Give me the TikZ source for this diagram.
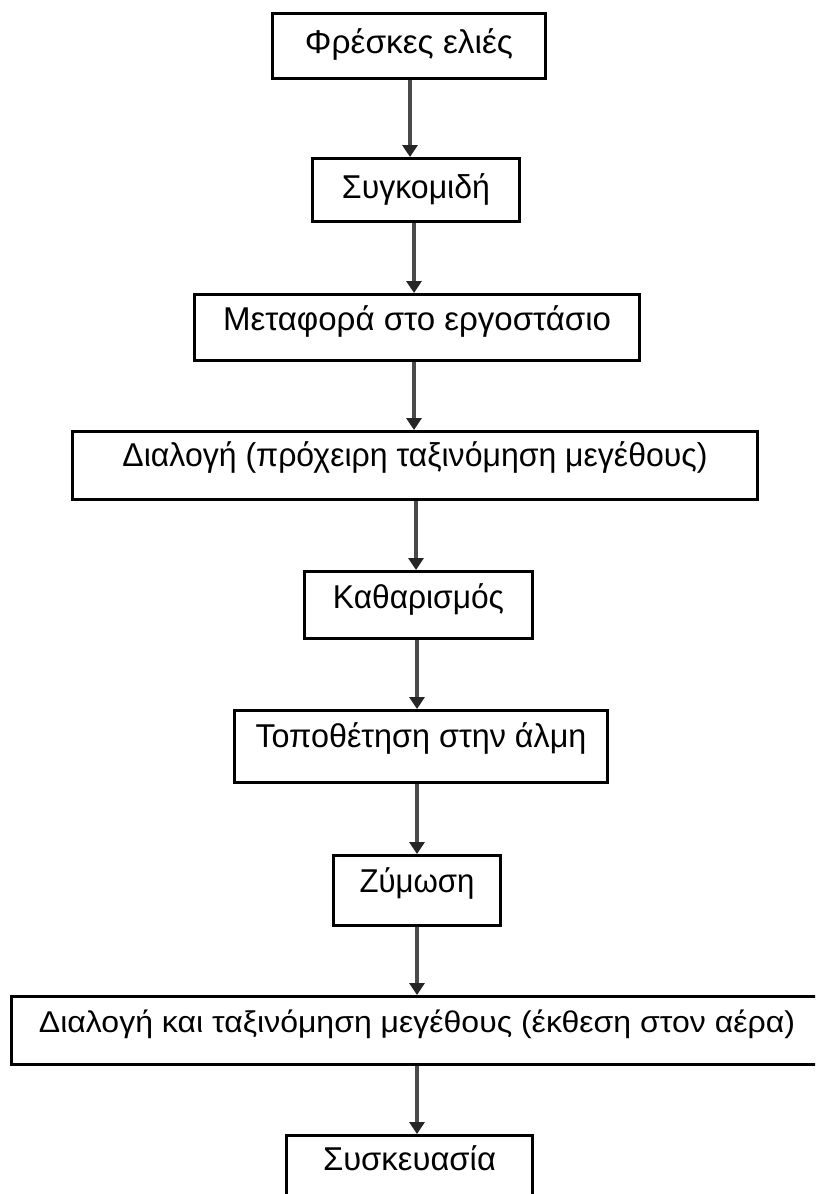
\documentclass[tikz,border=0pt]{standalone}
\usepackage{fontspec}
\setmainfont{Liberation Sans}
\usetikzlibrary{arrows.meta}
\definecolor{shaft}{HTML}{4A4A4A}
\definecolor{tipc}{HTML}{262626}
\tikzset{
  stepbox/.style={draw=black, line width=3pt, fill=white, inner sep=0pt,
    font=\fontsize{33}{40}\selectfont, text depth=10pt},
  flow/.style={draw=shaft, line width=3.5pt,
    -{Triangle[width=15pt,length=12pt,color=tipc]}},
}
% w: box width, t: printed text width
\newcommand{\fit}[2]{\resizebox{#1pt}{\height}{#2}}
\begin{document}
\begin{tikzpicture}[x=1pt,y=-1pt]
\useasboundingbox (0,0) rectangle (815,1194);
\clip (0,0) rectangle (815,1194);
\fill[white] (0,0) rectangle (815,1194);

% process steps, top to bottom
\node[stepbox, minimum width=273, minimum height=65, text height=24pt]
  (s1) at (409,46) {\fit{208}{Φρέσκες ελιές}};
\node[stepbox, minimum width=207, minimum height=63, text height=26pt]
  (s2) at (416,190) {\fit{148}{Συγκομιδή}};
\node[stepbox, minimum width=445, minimum height=66, text height=15pt]
  (s3) at (417,327.5) {\fit{388}{Μεταφορά στο εργοστάσιο}};
\node[stepbox, minimum width=685, minimum height=68, text height=12pt]
  (s4) at (415,465.5) {\fit{585}{Διαλογή (πρόχειρη ταξινόμηση μεγέθους)}};
\node[stepbox, minimum width=228, minimum height=67, text height=16pt]
  (s5) at (418.5,605) {\fit{171}{Καθαρισμός}};
\node[stepbox, minimum width=373, minimum height=72, text height=11pt]
  (s6) at (421,746.5) {\fit{331}{Τοποθέτηση στην άλμη}};
\node[stepbox, minimum width=167, minimum height=70, text height=13pt]
  (s7) at (417,890.5) {\fit{115}{Ζύμωση}};
\node[stepbox, minimum width=811, minimum height=68, text height=13pt,
  font=\fontsize{30}{36}\selectfont]
  (s8) at (417,1030.5) {\fit{756}{Διαλογή και ταξινόμηση μεγέθους (έκθεση στον αέρα)}};
\node[stepbox, minimum width=246, minimum height=67, text height=12pt]
  (s9) at (409.5,1169) {\fit{173}{Συσκευασία}};

% connectors
\draw[flow] ([xshift=1pt]s1.south)    -- ([xshift=-6pt]s2.north);
\draw[flow] ([xshift=-2pt]s2.south)   -- ([xshift=-3pt]s3.north);
\draw[flow] ([xshift=-3pt]s3.south)   -- ([xshift=-1pt]s4.north);
\draw[flow] ([xshift=1pt]s4.south)    -- ([xshift=-2.5pt]s5.north);
\draw[flow] ([xshift=-1.5pt]s5.south) -- ([xshift=-4pt]s6.north);
\draw[flow] ([xshift=-4pt]s6.south)   -- (s7.north);
\draw[flow] (s7.south)                -- (s8.north);
\draw[flow] (s8.south)                -- ([xshift=7.5pt]s9.north);
\end{tikzpicture}
\end{document}
